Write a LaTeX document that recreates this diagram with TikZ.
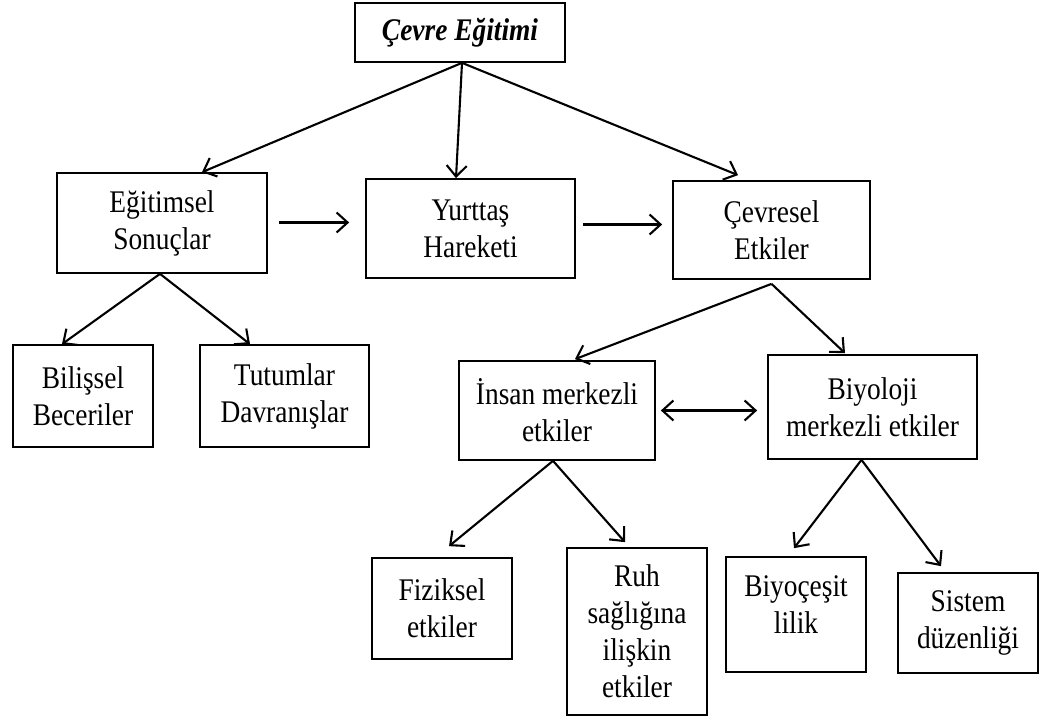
\documentclass[tikz,border=0pt]{standalone}
\usepackage{fontspec}
\setmainfont[FakeStretch=0.87]{Liberation Serif}
\usetikzlibrary{arrows.meta,calc}
\begin{document}
\begin{tikzpicture}[x=1pt,y=-1pt,
  box/.style={draw, line width=1.7pt, align=center, inner sep=0pt,
    font=\fontsize{31.5}{37}\selectfont},
  arr/.style={line width=2.1pt, -{Straight Barb[length=11pt,width=20pt]}},
  darr/.style={line width=2.1pt, {Straight Barb[length=11pt,width=20pt]}-{Straight Barb[length=11pt,width=20pt]}}]
\fill[white] (0,0) rectangle (1040,720);
\useasboundingbox (0,0) rectangle (1040,720);

\node[box, minimum width=210pt, minimum height=59pt] (top) at (460,32.5) {\bfseries\itshape Çevre Eğitimi};
\node[box, minimum width=210pt, minimum height=100pt] (egit) at (162,223) {Eğitimsel\\Sonuçlar};
\node[box, minimum width=209pt, minimum height=99pt] (yurt) at (470.5,228.5) {Yurttaş\\Hareketi};
\node[box, minimum width=197pt, minimum height=98pt] (cevr) at (771.5,230) {Çevresel\\Etkiler};
\node[box, minimum width=140pt, minimum height=102pt] (bil) at (83,396) {Bilişsel\\Beceriler};
\node[box, minimum width=169pt, minimum height=102pt] (tut) at (284.5,396) {Tutumlar\\Davranışlar};
\node[box, minimum width=196pt, minimum height=99pt] (insan) at (557,410.5) {İnsan merkezli\\etkiler};
\node[box, minimum width=209pt, minimum height=104pt] (biyo) at (872.5,407) {Biyoloji\\merkezli etkiler};
\node[box, minimum width=140pt, minimum height=101pt] (fiz) at (442,608.5) {Fiziksel\\etkiler};
\node[box, minimum width=140pt, minimum height=167pt] (ruh) at (637,631.5) {Ruh\\sağlığına\\ilişkin\\etkiler};
\node[box, minimum width=140pt, minimum height=115pt, text depth=19pt] (biyoc) at (796,614.5) {Biyoçeşit\\lilik};
\node[box, minimum width=140pt, minimum height=100pt] (sist) at (968,623) {Sistem\\düzenliği};

\draw[arr] ([xshift=2pt]top.south) -- ([xshift=40pt]egit.north);
\draw[arr] ([xshift=2pt]top.south) -- ([xshift=-14.5pt]yurt.north);
\draw[arr] ([xshift=2pt]top.south) -- ([xshift=-33.5pt,yshift=5pt]cevr.north);

\draw[arr] ([xshift=11pt,yshift=0.5pt]egit.east) -- ([xshift=-16pt,yshift=0.5pt]yurt.west |- egit.east);
\draw[arr] ([xshift=7pt,yshift=4pt]yurt.east) -- ([xshift=-10pt,yshift=4pt]cevr.west |- yurt.east);

\draw[arr] ([xshift=-2pt]egit.south) -- ([xshift=-21pt]bil.north);
\draw[arr] ([xshift=-2pt]egit.south) -- ([xshift=-34.5pt]tut.north);

\draw[arr] ([yshift=-4pt]cevr.south) -- ([xshift=18pt,yshift=1pt]insan.north);
\draw[arr] ([yshift=-4pt]cevr.south) -- ([xshift=-27.5pt,yshift=1pt]biyo.north);

\draw[darr] ([xshift=5pt]insan.east) -- ([xshift=-10pt]biyo.west |- insan.east);

\draw[arr] ([xshift=-4pt]insan.south) -- ([xshift=7pt,yshift=11pt]fiz.north);
\draw[arr] ([xshift=-4pt]insan.south) -- ([xshift=-12pt,yshift=5pt]ruh.north);
\draw[arr] ([xshift=-11pt]biyo.south) -- ([xshift=-2pt,yshift=8pt]biyoc.north);
\draw[arr] ([xshift=-11pt]biyo.south) -- ([xshift=-27pt,yshift=6pt]sist.north);
\end{tikzpicture}
\end{document}
